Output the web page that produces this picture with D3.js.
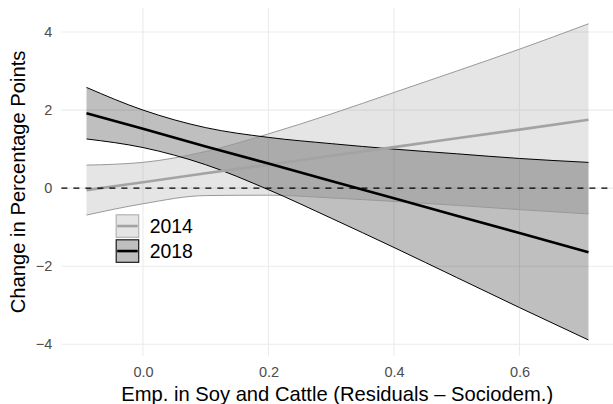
<!DOCTYPE html>
<html>
<head>
<meta charset="utf-8">
<script src="https://cdn.jsdelivr.net/npm/d3@7"></script>
<style>
  html, body { margin: 0; padding: 0; background: #fff; }
  svg { display: block; font-family: "Liberation Sans", Arial, Helvetica, sans-serif; }
</style>
</head>
<body>
<svg id="chart" width="613" height="404"></svg>
<script>
// Marginal effect of soy/cattle employment on vote change, with 95% bands
const xVals     = [-0.09, 0.0, 0.1, 0.2, 0.3, 0.4, 0.5, 0.6, 0.71];
const fit2014   = [-0.05, 0.15, 0.38, 0.60, 0.83, 1.05, 1.28, 1.50, 1.75];
const upper2014 = [0.59, 0.66, 0.94, 1.39, 1.90, 2.45, 3.00, 3.56, 4.21];
const lower2014 = [-0.69, -0.40, -0.19, -0.18, -0.25, -0.34, -0.44, -0.55, -0.66];
const fit2018   = [1.92, 1.52, 1.07, 0.63, 0.18, -0.26, -0.71, -1.15, -1.64];
const upper2018 = [2.58, 2.00, 1.55, 1.30, 1.14, 1.00, 0.88, 0.76, 0.66];
const lower2018 = [1.26, 1.04, 0.60, -0.04, -0.77, -1.52, -2.29, -3.06, -3.89];
const years     = ["2014", "2018"];
const xTicks    = [0.0, 0.2, 0.4, 0.6];
const yTicks    = [-4, -2, 0, 2, 4];
const xTitle    = "Emp. in Soy and Cattle (Residuals \u2013 Sociodem.)";
const yTitle    = "Change in Percentage Points";

const series = [
  { year: years[0], fit: fit2014, lo: lower2014, hi: upper2014,
    fill: "rgba(153,153,153,0.25)", edge: "#999999", line: "#a3a3a3", keyBorder: "#b3b3b3" },
  { year: years[1], fit: fit2018, lo: lower2018, hi: upper2018,
    fill: "rgba(0,0,0,0.25)", edge: "#000000", line: "#000000", keyBorder: "#1a1a1a" }
];

const svg = d3.select("#chart");
const panel = { left: 61.4, right: 613.6, top: 8.0, bottom: 355.8 };

// ggplot-style 5% expansion of the data range
function expand(ext) { const p = (ext[1] - ext[0]) * 0.05; return [ext[0] - p, ext[1] + p]; }
const xExt = expand(d3.extent(xVals));
const yExt = expand(d3.extent([...lower2014, ...upper2014, ...lower2018, ...upper2018]));

const x = d3.scaleLinear().domain(xExt).range([panel.left, panel.right]);
const y = d3.scaleLinear().domain(yExt).range([panel.bottom, panel.top]);

const gridColor = "#ebebeb";
const tickFont = "14.5px";
const titleFont = "20.2px";

// grid
const grid = svg.append("g");
grid.selectAll("line.v").data(xTicks).join("line")
  .attr("x1", d => x(d)).attr("x2", d => x(d))
  .attr("y1", panel.top).attr("y2", panel.bottom)
  .attr("stroke", gridColor).attr("stroke-width", 1.1);
grid.selectAll("line.h").data(yTicks).join("line")
  .attr("y1", d => y(d)).attr("y2", d => y(d))
  .attr("x1", panel.left).attr("x2", panel.right)
  .attr("stroke", gridColor).attr("stroke-width", 1.1);

// axes (labels only)
const yAxis = d3.axisLeft(y).tickValues(yTicks).tickSize(0).tickPadding(9.2);
const xAxis = d3.axisBottom(x).tickValues(xTicks).tickFormat(d3.format(".1f")).tickSize(0).tickPadding(10.6);

const gy = svg.append("g").attr("transform", `translate(${panel.left},0)`).call(yAxis);
const gx = svg.append("g").attr("transform", `translate(0,${panel.bottom})`).call(xAxis);
[gx, gy].forEach(g => {
  g.select(".domain").remove();
  g.attr("font-family", null).attr("font-size", null);
  g.selectAll("text").attr("fill", "#4d4d4d").style("font-size", tickFont);
});

// bands, edges and fitted lines
const pts = s => xVals.map((v, i) => ({ x: v, fit: s.fit[i], lo: s.lo[i], hi: s.hi[i] }));
const area = d3.area().x(d => x(d.x)).y0(d => y(d.lo)).y1(d => y(d.hi)).curve(d3.curveMonotoneX);
const edgeLo = d3.line().x(d => x(d.x)).y(d => y(d.lo)).curve(d3.curveMonotoneX);
const edgeHi = d3.line().x(d => x(d.x)).y(d => y(d.hi)).curve(d3.curveMonotoneX);
const fitLine = d3.line().x(d => x(d.x)).y(d => y(d.fit));

const marks = svg.append("g");
series.forEach(s => {
  marks.append("path").datum(pts(s)).attr("d", area).attr("fill", s.fill).attr("stroke", "none");
});
series.forEach(s => {
  marks.append("path").datum(pts(s)).attr("d", edgeLo).attr("fill", "none").attr("stroke", s.edge).attr("stroke-width", 1);
  marks.append("path").datum(pts(s)).attr("d", edgeHi).attr("fill", "none").attr("stroke", s.edge).attr("stroke-width", 1);
});
series.forEach(s => {
  marks.append("path").datum(pts(s)).attr("d", fitLine).attr("fill", "none").attr("stroke", s.line).attr("stroke-width", 2.6);
});

// zero reference
svg.append("line")
  .attr("x1", panel.left).attr("x2", panel.right)
  .attr("y1", y(0)).attr("y2", y(0))
  .attr("stroke", "#000").attr("stroke-width", 1.1).attr("stroke-dasharray", "6,6");

// legend
const key = 23.5;
const legend = svg.append("g").attr("transform", "translate(115.7,214.3)");
series.forEach((s, i) => {
  const g = legend.append("g").attr("transform", `translate(0,${i * (key + 1.5)})`);
  g.append("rect").attr("width", key).attr("height", key).attr("fill", "#fff");
  g.append("rect").attr("x", 0.5).attr("y", 0.5).attr("width", key - 1).attr("height", key - 1)
    .attr("fill", s.fill).attr("stroke", s.keyBorder).attr("stroke-width", 1.2);
  g.append("line").attr("x1", 1.5).attr("x2", key - 1.5).attr("y1", key / 2).attr("y2", key / 2)
    .attr("stroke", s.line).attr("stroke-width", 2.6);
  g.append("text").attr("x", key + 10.5).attr("y", key / 2).attr("dy", "0.36em")
    .style("font-size", "19.4px").attr("fill", "#000").text(s.year);
});

// axis titles
svg.append("text").attr("x", (panel.left + panel.right) / 2 - 0.3).attr("y", 400.8)
  .attr("text-anchor", "middle").style("font-size", titleFont).attr("fill", "#000").text(xTitle);
svg.append("text").attr("transform", `translate(24.5,${(panel.top + panel.bottom) / 2}) rotate(-90)`)
  .attr("text-anchor", "middle").style("font-size", titleFont).attr("fill", "#000").text(yTitle);
</script>
</body>
</html>
